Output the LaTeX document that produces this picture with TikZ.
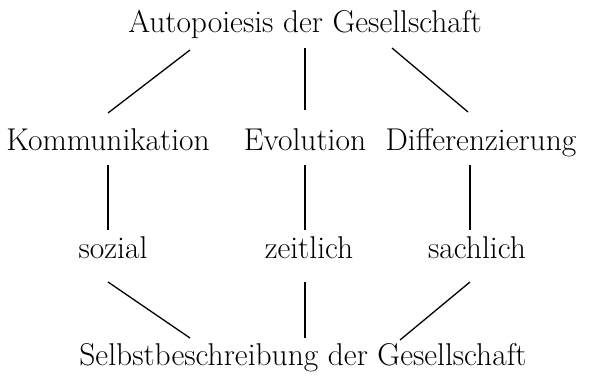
\documentclass[tikz,border=0pt]{standalone}
\begin{document}
\begin{tikzpicture}[x=1pt,y=-1pt,
  lbl/.style={font=\fontsize{31.5}{34}\selectfont, inner sep=0pt, anchor=base},
  con/.style={line width=1.3pt}]
\useasboundingbox (0,0) rectangle (597,380);
\node[lbl] (auto) at (305,32) {Autopoiesis der Gesellschaft};
\node[lbl] (kom) at (108,150) {Kommunikation};
\node[lbl] (evo) at (305,150) {Evolution};
\node[lbl] (dif) at (481,150) {Differenzierung};
\node[lbl] (soz) at (113,258) {sozial};
\node[lbl] (zeit) at (309,258) {zeitlich};
\node[lbl] (sach) at (477,258) {sachlich};
\node[lbl] (selbst) at (303,365) {Selbstbeschreibung der Gesellschaft};
\draw[con] ([shift={(-115,18)}]auto.base) -- ([shift={(0,-37)}]kom.base);
\draw[con] ([shift={(0,16)}]auto.base) -- ([shift={(0,-40)}]evo.base);
\draw[con] ([shift={(87,16)}]auto.base) -- ([shift={(-13,-38)}]dif.base);
\draw[con] ([shift={(0,15)}]kom.base) -- ([shift={(-5,-28)}]soz.base);
\draw[con] ([shift={(0,15)}]evo.base) -- ([shift={(-4,-28)}]zeit.base);
\draw[con] ([shift={(-11,15)}]dif.base) -- ([shift={(-7,-28)}]sach.base);
\draw[con] ([shift={(-5,24)}]soz.base) -- ([shift={(-113,-27)}]selbst.base);
\draw[con] ([shift={(-4,24)}]zeit.base) -- ([shift={(2,-27)}]selbst.base);
\draw[con] ([shift={(-7,24)}]sach.base) -- ([shift={(97,-25)}]selbst.base);
\end{tikzpicture}
\end{document}
